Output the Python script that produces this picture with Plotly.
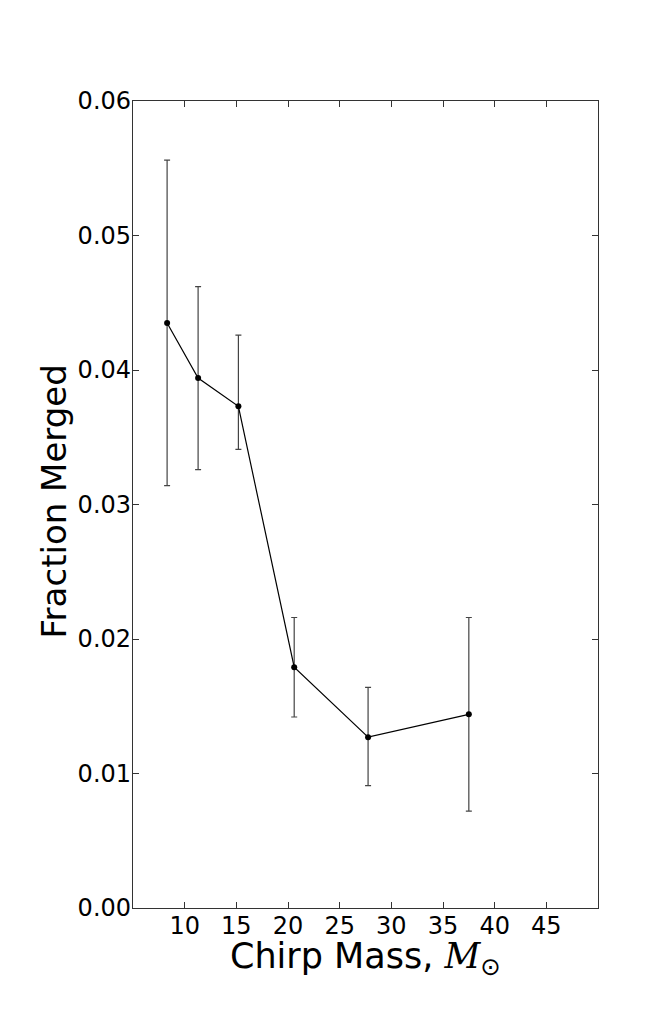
import plotly.graph_objects as go

chirp_mass = [8.3, 11.3, 15.2, 20.6, 27.75, 37.5]
fraction_merged = [0.0435, 0.0394, 0.0373, 0.0179, 0.0127, 0.0144]
err_plus = [0.0121, 0.0068, 0.0053, 0.0037, 0.0037, 0.0072]
err_minus = [0.0121, 0.0068, 0.0032, 0.0037, 0.0036, 0.0072]

x_ticks = [10, 15, 20, 25, 30, 35, 40, 45]
y_ticks = [0.00, 0.01, 0.02, 0.03, 0.04, 0.05, 0.06]
y_ticklabels = ["0.00", "0.01", "0.02", "0.03", "0.04", "0.05", "0.06"]

x_title = "Chirp Mass, <span style='font-family:\"DejaVu Serif\",serif'><i>M</i></span><sub>⊙</sub>"
y_title = "Fraction Merged"

fig = go.Figure()
fig.add_trace(go.Scatter(
    x=chirp_mass, y=fraction_merged,
    mode="lines+markers",
    line=dict(color="black", width=1.2),
    marker=dict(color="black", size=6),
    error_y=dict(type="data", symmetric=False, array=err_plus, arrayminus=err_minus,
                 color="#444444", thickness=1.2, width=3),
    showlegend=False,
))

font = "DejaVu Sans"
fig.update_layout(
    width=656, height=1002,
    margin=dict(l=125, r=66, t=93, b=102),
    paper_bgcolor="white", plot_bgcolor="white",
    font=dict(family=font, color="black"),
    xaxis=dict(
        range=[5, 50], tickvals=x_ticks, ticks="inside", ticklen=6, tickcolor="#333",
        mirror="allticks", showline=True, linecolor="#333", linewidth=1.3,
        showgrid=False, zeroline=False, ticklabelstandoff=-4,
        tickfont=dict(size=24, family=font),
    ),
    yaxis=dict(
        range=[0, 0.06], tickvals=y_ticks, ticktext=y_ticklabels, ticks="inside", ticklen=6,
        tickcolor="#333", mirror="allticks", showline=True, linecolor="#333", linewidth=1.3,
        showgrid=False, zeroline=False, ticklabelstandoff=-4,
        tickfont=dict(size=24, family=font),
    ),
    annotations=[
        dict(text=x_title, xref="paper", yref="paper", x=0.499, y=-0.063,
             xanchor="center", yanchor="middle", showarrow=False,
             font=dict(size=35, family=font, color="black")),
        dict(text=y_title, xref="paper", yref="paper", x=-0.170, y=0.5037,
             xanchor="center", yanchor="middle", showarrow=False, textangle=-90,
             font=dict(size=34, family=font, color="black")),
    ],
)

fig.write_html("out.html")
